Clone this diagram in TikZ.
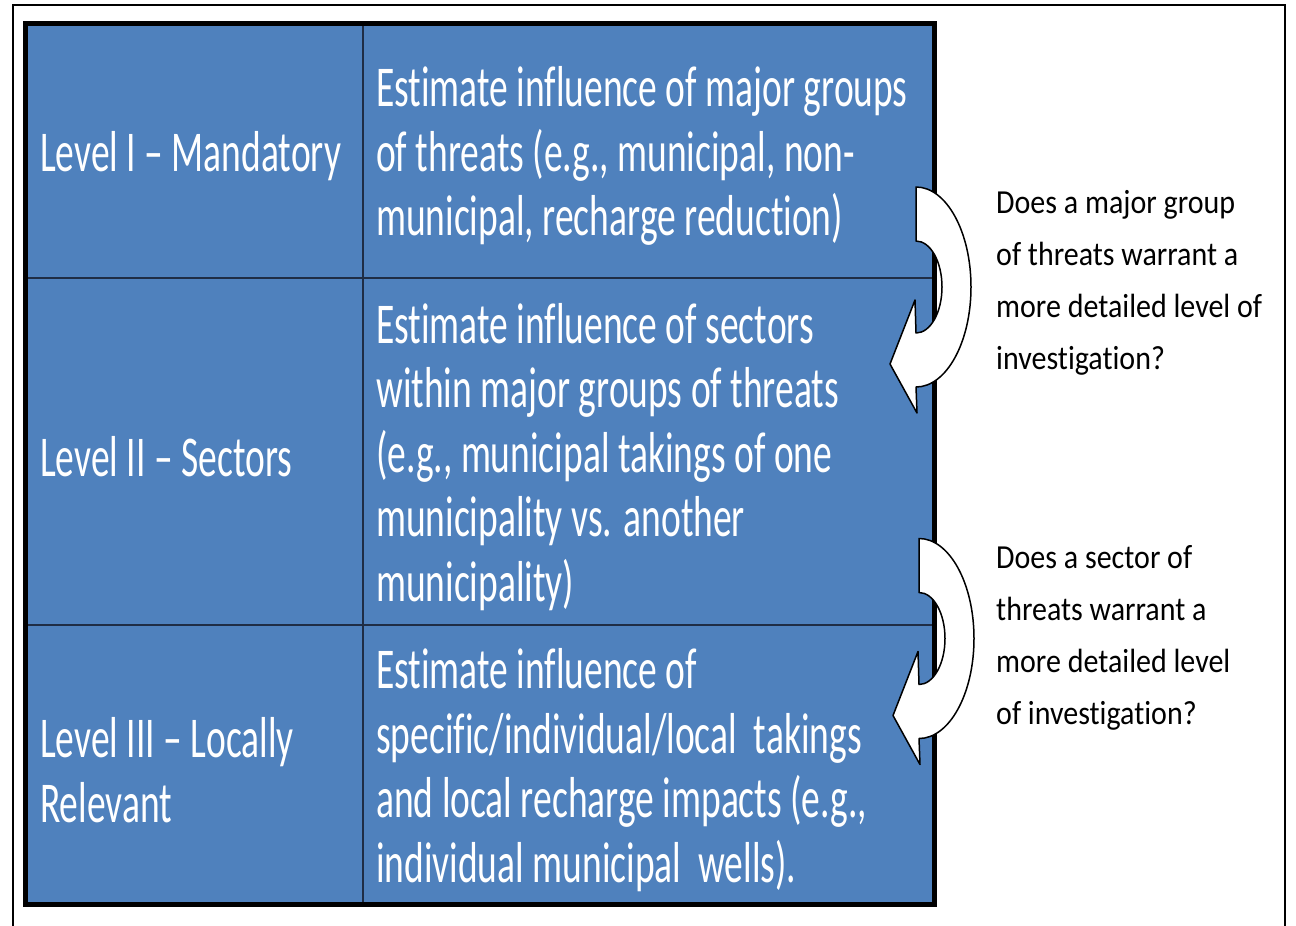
\documentclass[tikz,border=0pt]{standalone}
\usepackage{fontspec}
\setmainfont{Carlito}[Ligatures={TeX,NoCommon}]
\definecolor{tblue}{HTML}{4F81BD}
\definecolor{tline}{HTML}{1F2D45}
\begin{document}
\begin{tikzpicture}[x=1pt, y=1pt,
  cell/.style={anchor=west, align=left, inner sep=0pt, text=white, yscale=1.54, font=\fontsize{37.5}{41.9}\selectfont},
  ask/.style={anchor=west, align=left, inner sep=0pt, text=black, yscale=1.12, font=\fontsize{30}{46.4}\selectfont},
  curl/.style={fill=white, draw=black, line width=1.5pt, line join=round}]
\useasboundingbox (0,0) rectangle (1296,-926);
\draw[line width=2pt] (13,-926)--(13,-5)--(1285,-5)--(1285,-926);
\fill[tblue] (25,-23) rectangle (934,-905);
\draw[tline, line width=2pt] (363,-23)--(363,-905);
\foreach \y in {278,625}
{
    \draw[tline, line width=2pt] (25,-\y)--(934,-\y);
}
\draw[line width=5pt] (25.5,-23.5) rectangle (934.5,-904);

\node[cell] (lvlone) at (40,-156) {Level I – Mandatory};
\node[cell] (lvltwo) at (40,-457) {Level II – Sectors};
\node[cell] (lvlthree) at (40,-770) {Level III – Locally\\Relevant};

\node[cell] (estone) at (376,-156) {Estimate influence of major groups\\of threats (e.g., municipal, non-\\municipal, recharge reduction)};
\node[cell] (esttwo) at (376,-457) {Estimate influence of sectors\\within major groups of threats\\(e.g., municipal takings of one\\municipality vs. another\\municipality)};
\node[cell] (estthree) at (376,-770) {Estimate influence of\\specific/individual/local~ takings\\and local recharge impacts (e.g.,\\individual municipal~ wells).};

\node[ask] (askone) at (996,-282.5) {Does a major group\\of threats warrant a\\more detailed level of\\investigation?};
\node[ask] (asktwo) at (996,-637.5) {Does a sector of\\threats warrant a\\more detailed level\\of investigation?};

\foreach \ax/\ay in {916/287, 919/638.5}
{
    \draw[curl, shift={(\ax,-\ay)}] (0,100) arc[start angle=90, end angle=-90, x radius=55, y radius=100]
        --(1,-126)--(-26,-77)--(-1,-13)--(0,-46)
        arc[start angle=-90, end angle=90, x radius=26, y radius=46]--cycle;
}
\end{tikzpicture}
\end{document}
